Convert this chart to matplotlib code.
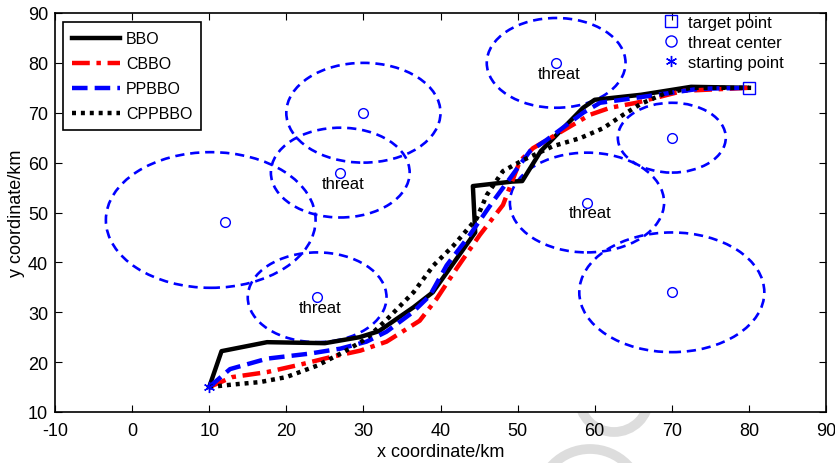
"""
Path planning result: BBO variants among threat zones.
"""

import matplotlib.pyplot as plt
from matplotlib.patches import Circle
from matplotlib.lines import Line2D


plt.rcParams['font.family'] = ['Liberation Sans', 'DejaVu Sans']
plt.rcParams['axes.unicode_minus'] = False


# start and target
start_x, start_y = 10, 15
target_x, target_y = 80, 75

# threat centers (markers) and zone circles
threat_x = [12, 30, 27, 24, 55, 59, 70, 70]
threat_y = [48, 70, 58, 33, 80, 52, 65, 34]
zone_x = [10.2, 30, 27, 24, 55, 59, 70, 70]
zone_y = [48.5, 70, 58, 33, 80, 52, 65, 34]
zone_r = [13.6, 10, 9, 9, 9, 10, 7, 12]
labelled = [2, 3, 4, 5]

# paths
bbo_x = [10, 11.6, 17.5, 25, 29.5, 32, 36.5, 39, 44.5, 44.2, 49.3, 50.6, 53, 58.5, 60, 66, 72.5, 80]
bbo_y = [15, 22.2, 24, 23.8, 25, 26.2, 31, 34, 46, 55.3, 56.2, 56.3, 62.3, 71, 72.6, 73.6, 75.2, 75]

cbbo_x = [10, 13, 17.5, 21.8, 26, 29.6, 33, 37.3, 39.5, 42.1, 45.1, 48.1, 50.3, 52, 59.4, 62, 65.4, 71.5, 80]
cbbo_y = [15, 17, 18, 19.5, 21.1, 22.3, 24.1, 28.3, 32.7, 38.8, 45.5, 51.5, 60.3, 62.9, 69.6, 71, 72, 74.4, 75]

ppbbo_x = [10, 12.7, 17.5, 23, 27, 30.4, 33, 36.4, 38.6, 40.8, 43.8, 46.8, 51.6, 53.8, 58.5, 60.7, 65.4, 73.5, 80]
ppbbo_y = [15, 18.6, 20.7, 21.7, 22.7, 24.1, 26.1, 30, 33.3, 39.4, 45.5, 52.2, 62.3, 64.6, 70, 72, 73, 74.8, 75]

cppbbo_x = [10, 13, 16.6, 20, 24, 27.4, 30.4, 33, 36.5, 39.1, 41.7, 44.7, 46, 48.1, 50.7, 54.6, 58.1, 61.1, 63.7, 66, 69, 72.5, 80]
cppbbo_y = [15, 15.5, 16, 17, 19.3, 22, 24.7, 28.5, 34, 39.4, 43.4, 48.8, 53.5, 58.3, 60.5, 63.3, 64.9, 66.9, 69.6, 71.8, 73.8, 75, 75]


fig = plt.figure(figsize=(8.35, 4.64), dpi=100)

# faint watermark behind the axes
bg = fig.add_axes([0, 0, 1, 1], zorder=-1)
bg.set_xlim(0, 835)
bg.set_ylim(464, 0)
bg.axis('off')
bg.add_patch(Circle((614, 398), 35, fill=False, lw=7, color='#dddddd'))
bg.add_patch(Circle((590, 502), 52, fill=False, lw=7, color='#dddddd'))

ax = fig.add_axes([55/835, 51/464, 771/835, 399/464])
ax.set_facecolor('white')

# threat zones
for i in range(len(zone_x)):
    ax.add_patch(Circle((zone_x[i], zone_y[i]), zone_r[i], fill=False,
                        ec='blue', lw=1.9, ls=(0, (3.5, 2.2))))
for i in labelled:
    ax.text(threat_x[i] + 0.4, threat_y[i] - 2.1, 'threat', fontsize=12,
            ha='center', va='center')

ax.plot(threat_x, threat_y, 'o', mfc='none', mec='blue', ms=7, mew=1)

# paths
l1, = ax.plot(bbo_x, bbo_y, '-', color='black', lw=3.2, label='BBO')
l2, = ax.plot(cbbo_x, cbbo_y, color='red', lw=3.2, ls=(0, (4, 1.5, 1, 1.5)), label='CBBO')
l3, = ax.plot(ppbbo_x, ppbbo_y, color='blue', lw=3.2, ls=(0, (3.5, 1.6)), label='PPBBO')
l4, = ax.plot(cppbbo_x, cppbbo_y, color='black', lw=3.2, ls=(0, (0.9, 1.1)), label='CPPBBO')

ax.plot(target_x, target_y, 's', mfc='none', mec='blue', ms=9, mew=1)
ax.plot(start_x, start_y, marker=(6, 2, 0), color='blue', ms=8, mew=1)

ax.set_xlim(-10, 90)
ax.set_ylim(10, 90)
ax.set_xticks(range(-10, 91, 10))
ax.set_yticks(range(10, 91, 10))
ax.tick_params(direction='in', top=True, right=True, length=5, width=0.8,
               labelsize=13)
ax.tick_params(axis='x', pad=7)
ax.tick_params(axis='y', pad=5)
for s in ax.spines.values():
    s.set_linewidth(1.2)

ax.set_xlabel('x coordinate/km', fontsize=13, labelpad=3)
ax.set_ylabel('y coordinate/km', fontsize=13, labelpad=2)

leg1 = ax.legend(handles=[l1, l2, l3, l4], loc='upper left',
                 bbox_to_anchor=(0.0104, 0.977), borderaxespad=0,
                 fontsize=11.5, handlelength=3.0, handletextpad=0.35,
                 labelspacing=0.62, borderpad=0.58, fancybox=False,
                 edgecolor='black', framealpha=1)
leg1.get_frame().set_linewidth(1.2)
ax.add_artist(leg1)

h_target = Line2D([], [], ls='none', marker='s', mfc='none', mec='blue', ms=8)
h_threat = Line2D([], [], ls='none', marker='o', mfc='none', mec='blue', ms=8)
h_start = Line2D([], [], ls='none', marker=(6, 2, 0), color='blue', ms=8)
ax.legend(handles=[h_target, h_threat, h_start],
          labels=['target point', 'threat center', 'starting point'],
          loc='upper left', bbox_to_anchor=(0.7796, 1.0125), borderaxespad=0,
          frameon=False, fontsize=12, handlelength=1.0, handletextpad=0.5,
          labelspacing=0.3)

plt.savefig('out.png', dpi=100)
